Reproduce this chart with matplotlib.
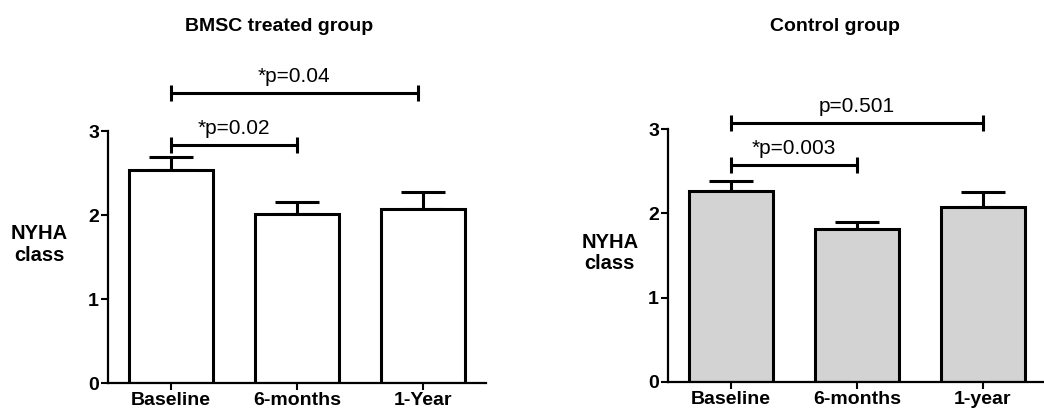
import matplotlib.pyplot as plt

plt.rcParams['font.family'] = ['Liberation Sans', 'DejaVu Sans']

# NYHA class, mean with upper SEM, per time point
bmsc_labels = ['Baseline', '6-months', '1-Year']
bmsc_mean = [2.54, 2.01, 2.07]
bmsc_err = [0.15, 0.14, 0.20]

ctrl_labels = ['Baseline', '6-months', '1-year']
ctrl_mean = [2.27, 1.81, 2.08]
ctrl_err = [0.12, 0.09, 0.18]

# significance brackets: (from bar, to bar, height, label)
bmsc_brackets = [(0, 1, 2.84, '*p=0.02'), (0, 1.96, 3.45, '*p=0.04')]
ctrl_brackets = [(0, 1, 2.58, '*p=0.003'), (0, 2, 3.08, 'p=0.501')]

fig = plt.figure(figsize=(10.44, 4.11), dpi=100)


def draw_panel(ax, labels, means, errs, brackets, fill):
    x = range(len(labels))
    ax.bar(x, means, width=0.67, color=fill, edgecolor='black', linewidth=2.2, zorder=2)
    ax.errorbar(x, means, yerr=[[0] * len(errs), errs], fmt='none', ecolor='black',
                elinewidth=2.2, capsize=16, capthick=2.2, zorder=1)
    for x0, x1, y, txt in brackets:
        ax.plot([x0, x1], [y, y], color='black', lw=2.2, marker='|', markersize=12,
                mew=2.2, clip_on=False)
        ax.annotate(txt, ((x0 + x1) / 2, y), xytext=(0, 5), textcoords='offset points',
                    ha='center', va='bottom', fontsize=15, annotation_clip=False)
    ax.set_xlim(-0.5, 2.5)
    ax.set_ylim(0, 3)
    ax.set_yticks([0, 1, 2, 3])
    ax.set_xticks(list(x))
    ax.set_xticklabels(labels)
    for lab in ax.get_xticklabels() + ax.get_yticklabels():
        lab.set_fontweight('bold')
        lab.set_fontsize(14)
    ax.tick_params(axis='both', width=1.5, length=5, pad=1.5)
    ax.spines['top'].set_visible(False)
    ax.spines['right'].set_visible(False)
    ax.spines['left'].set_linewidth(1.6)
    ax.spines['bottom'].set_linewidth(1.6)


ax1 = fig.add_axes([0.1034, 0.0681, 0.362, 0.613])
draw_panel(ax1, bmsc_labels, bmsc_mean, bmsc_err, bmsc_brackets, 'white')

ax2 = fig.add_axes([0.6398, 0.0713, 0.362, 0.614])
draw_panel(ax2, ctrl_labels, ctrl_mean, ctrl_err, ctrl_brackets, '#d3d3d3')

fig.text(0.267, 0.935, 'BMSC treated group', ha='center', va='center',
         fontsize=14, fontweight='bold')
fig.text(0.800, 0.935, 'Control group', ha='center', va='center',
         fontsize=14, fontweight='bold')
fig.text(0.038, 0.405, 'NYHA\nclass', ha='center', va='center',
         fontsize=14.5, fontweight='bold', linespacing=1.15)
fig.text(0.584, 0.385, 'NYHA\nclass', ha='center', va='center',
         fontsize=14.5, fontweight='bold', linespacing=1.15)

fig.savefig('out.png', dpi=100)
